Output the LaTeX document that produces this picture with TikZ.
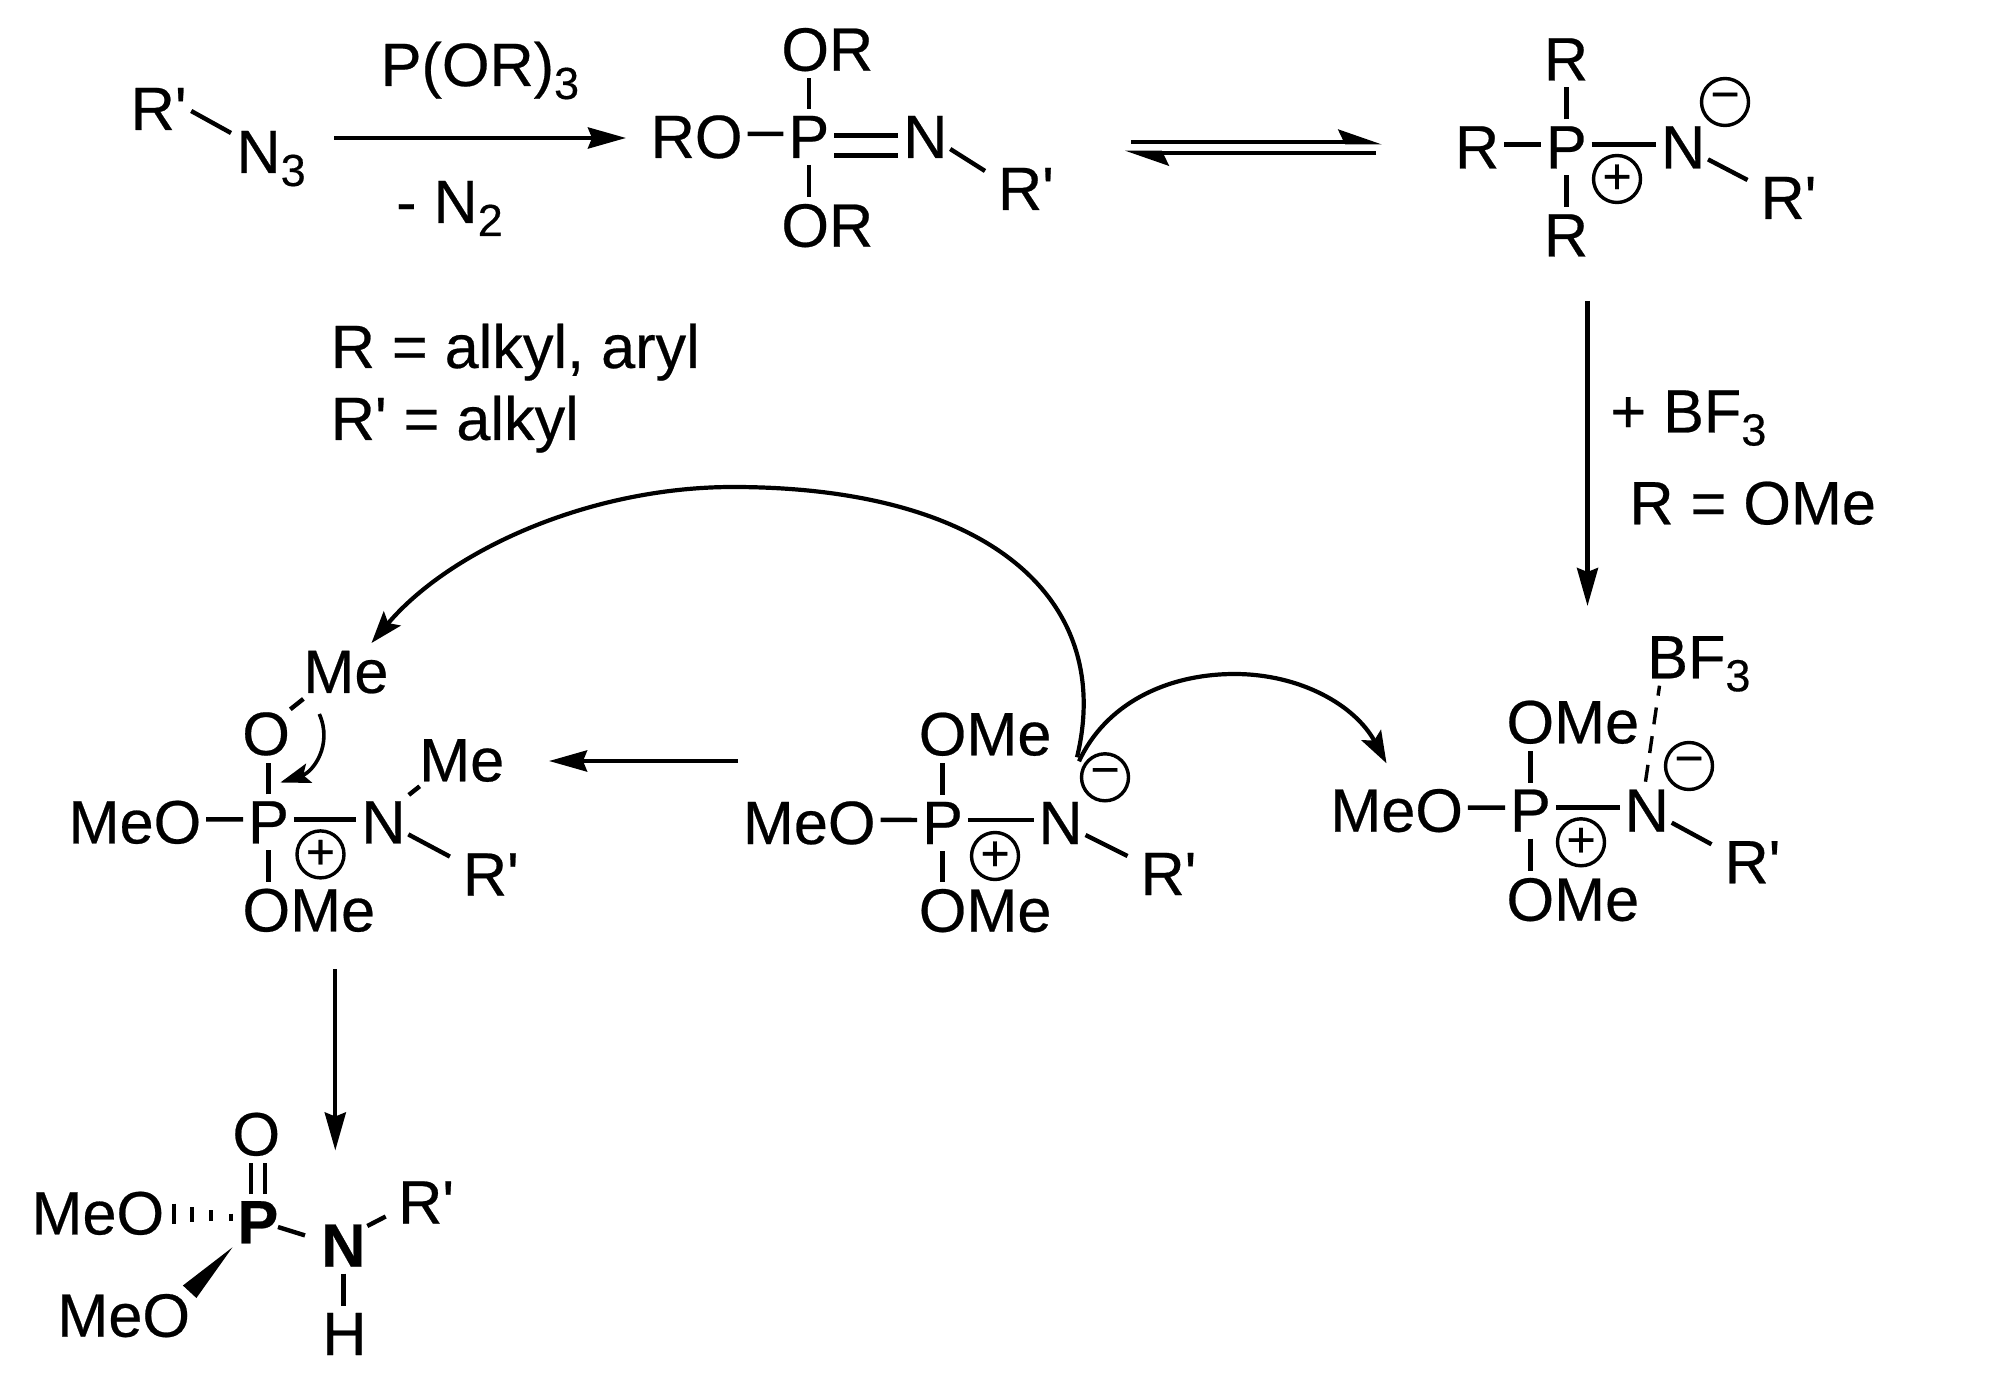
\documentclass[tikz,border=0pt]{standalone}
\usepackage{fontspec}
\usetikzlibrary{arrows.meta,calc}
\newfontfamily\lib{Liberation Sans}[FakeBold=0.4]
\newcommand{\sbs}[1]{\raisebox{-6.5pt}{\fontsize{22.5}{22.5}\selectfont #1}}
\newcommand{\hbond}[2]{\draw[bond] ([yshift=1.5pt]#1.east) -- ([yshift=1.5pt]#2.west);}
\newcommand{\upbond}[2]{\draw[bond,shorten <=1pt,shorten >=1pt] (#1.north) -- (#1.north |- #2.south);}
\newcommand{\downbond}[2]{\draw[bond,shorten <=1pt,shorten >=1pt] (#1.south) -- (#1.south |- #2.north);}
\newcommand{\nrbond}[2]{\draw[bond] ([shift={(52,-9)}]#1.base west) -- ([shift={(-8,-39)}]#2.base west);}
\tikzset{
  atom/.style={font=\lib\fontsize{30.6}{36}\selectfont,inner sep=0pt,outer sep=2.5pt,anchor=base west,xshift=-2.5pt},
  batom/.style={atom,font=\lib\bfseries\fontsize{30.6}{36}\selectfont},
  bond/.style={line width=2.2pt},
  charge/.style={draw,circle,line width=1.7pt,minimum size=23.5pt,inner sep=0pt,font=\lib\fontsize{25}{25}\selectfont},
  rxn/.style={line width=2.1pt,-{Stealth[length=19pt,width=10.5pt,inset=2pt]}},
  curly/.style={line width=2.1pt,-{Stealth[length=16pt,width=11pt,inset=3pt]}},
  eqtop/.style={line width=2pt,-{Stealth[harpoon,length=19pt,width=13pt,inset=3pt]}},
}
\begin{document}
\begin{tikzpicture}[x=.5pt,y=-.5pt]
\path[fill=white,use as bounding box] (0,0) rectangle (1990,1379);
% azide
\node[atom] (aR) at (130.7,130) {R'};
\node[atom] (aN) at (236.5,173) {N\sbs{3}};
\draw[bond] ([shift={(65.5,-19)}]aR.base west) -- ([shift={(-.5,-40)}]aN.base west);
% top reagents
\node[atom] (t1) at (380.7,86) {P(OR)\sbs{3}};
\node[atom] (t2) at (396.2,223) {- N\sbs{2}};
\coordinate (a1s) at (334,138); \coordinate (a1e) at (626,138);
\draw[rxn] (a1s) -- (a1e);
% B
\node[atom] (bRO) at (650.7,158) {RO};
\node[atom] (bP) at (788.4,158) {P};
\node[atom] (bN) at (903.2,158) {N};
\node[atom] (bRp) at (998,210) {R'};
\node[atom] (bO1) at (781.4,70.7) {OR};
\node[atom] (bO2) at (781.4,246.7) {OR};
\hbond{bRO}{bP}
\upbond{bP}{bO1}
\downbond{bP}{bO2}
\draw[bond] ([shift={(0,-1.5)}]bP.east) -- ([shift={(0,-1.5)}]bN.west);
\draw[bond] ([shift={(0,18.5)}]bP.east) -- ([shift={(0,18.5)}]bN.west);
\nrbond{bN}{bRp}
% legend
\node[atom] (l1) at (330.8,368) {R = alkyl, aryl};
\node[atom] (l2) at (330.8,440) {R' = alkyl};
% equilibrium
\coordinate (e1s) at (1131,142.5); \coordinate (e1e) at (1382,142.5);
\coordinate (e2s) at (1376,152.7); \coordinate (e2e) at (1125,152.7);
\draw[eqtop] (e1s) -- (e1e);
\draw[eqtop] (e2s) -- (e2e);
% C
\node[atom] (cR1) at (1543.9,80.4) {R};
\node[atom] (cR2) at (1455,168.4) {R};
\node[atom] (cR3) at (1543.9,256.4) {R};
\node[atom] (cP) at (1545.9,168.4) {P};
\node[atom] (cN) at (1661,168.4) {N};
\node[atom] (cRp) at (1760.5,219) {R'};
\node[charge] (cm) at (1725,102) {−};
\node[charge] (cq) at (1617,179) {+};
\hbond{cR2}{cP}
\hbond{cP}{cN}
\upbond{cP}{cR1}
\downbond{cP}{cR3}
\nrbond{cN}{cRp}
% BF3 arrow
\coordinate (a2s) at (1587.5,301); \coordinate (a2e) at (1587.5,606);
\draw[rxn] (a2s) -- (a2e);
\node[atom] (r1) at (1610.4,432.5) {+ BF\sbs{3}};
\node[atom] (r2) at (1629.4,524.3) {R = OMe};
% G
\node[atom] (gB) at (1647.2,678.3) {BF\sbs{3}};
\node[atom] (gO1) at (1506.5,743.3) {OMe};
\node[atom] (gO2) at (1506.5,920.7) {OMe};
\node[atom] (gMeO) at (1330.3,831.7) {MeO};
\node[atom] (gP) at (1510,831.7) {P};
\node[atom] (gN) at (1624.7,831.7) {N};
\node[atom] (gRp) at (1724.5,883.3) {R'};
\node[charge] (gm) at (1689,766) {−};
\node[charge] (gq) at (1581,842.3) {+};
\hbond{gMeO}{gP}
\hbond{gP}{gN}
\upbond{gP}{gO1}
\downbond{gP}{gO2}
\nrbond{gN}{gRp}
\draw[line width=1.7pt,dash pattern=on 8.5pt off 6pt] ([shift={(25.8,-50)}]gN.base west) -- ([shift={(17.3,7.4)}]gB.base west);
% F
\node[atom] (fO1) at (918.8,755.3) {OMe};
\node[atom] (fO2) at (918.8,931.7) {OMe};
\node[atom] (fMeO) at (742.9,844) {MeO};
\node[atom] (fP) at (922.1,844) {P};
\node[atom] (fN) at (1038.5,844) {N};
\node[atom] (fRp) at (1140.5,895) {R'};
\node[charge] (fm) at (1105,777.3) {−};
\node[charge] (fq) at (995,856) {+};
\hbond{fMeO}{fP}
\hbond{fP}{fN}
\upbond{fP}{fO1}
\downbond{fP}{fO2}
\nrbond{fN}{fRp}
% curved arrows
\coordinate (c1e) at (371.5,643);
\draw[curly] ([shift={(-28,-20)}]fm.center) .. controls (1115,600) and (990,487) .. (733,487) .. controls (590,487) and (450,550) .. (c1e);
\coordinate (c2e) at (1386.5,763.3);
\draw[curly] ([shift={(-26,-16)}]fm.center) .. controls (1105,705) and (1165,674) .. (1234.6,674) .. controls (1300,674) and (1355,705) .. (c2e);
% F->D arrow
\coordinate (a3s) at (738,761); \coordinate (a3e) at (549,761);
\draw[rxn] (a3s) -- (a3e);
% D
\node[atom] (dMe) at (303.4,692.9) {Me};
\node[atom] (dO) at (242.3,755) {O};
\node[atom] (dMeO) at (68.6,843.4) {MeO};
\node[atom] (dP) at (248.1,843.4) {P};
\node[atom] (dN) at (361.3,843.4) {N};
\node[atom] (dMe2) at (419.2,781.3) {Me};
\node[atom] (dRp) at (462.9,895.6) {R'};
\node[atom] (dO2) at (242.5,931.4) {OMe};
\node[charge] (dq) at (320.5,854.4) {+};
\hbond{dMeO}{dP}
\hbond{dP}{dN}
\upbond{dP}{dO}
\downbond{dP}{dO2}
\nrbond{dN}{dRp}
\draw[bond] ([shift={(53,-45.7)}]dO.base west) -- ([shift={(5,6)}]dMe.base west);
\draw[bond] ([shift={(52.5,-48.5)}]dN.base west) -- ([shift={(5.5,5)}]dMe2.base west);
\coordinate (c3e) at (280.4,782.5);
\draw[line width=1.8pt,-{Stealth[length=15pt,width=10pt,inset=3pt]}] ([shift={(82,-41)}]dO.base west) .. controls (333,745) and (313,772) .. (c3e);
% D->E arrow
\coordinate (a4s) at (335.3,969); \coordinate (a4e) at (335.3,1150.5);
\draw[rxn] (a4s) -- (a4e);
% E
\node[atom] (eO) at (232.5,1155.4) {O};
\node[batom] (eP) at (237.5,1243.3) {P};
\node[atom] (eMeO1) at (31.5,1234.4) {MeO};
\node[atom] (eMeO2) at (57.4,1336.7) {MeO};
\node[batom] (eN) at (321.3,1266.7) {N};
\node[atom] (eRp) at (398.2,1223.5) {R'};
\node[atom] (eH) at (322.3,1355) {H};
\draw[bond,shorten <=1pt,shorten >=1pt] ([xshift=-3.6pt]eP.north) -- ([xshift=-3.6pt]eP.north |- eO.south);
\draw[bond,shorten <=1pt,shorten >=1pt] ([xshift=3.6pt]eP.north) -- ([xshift=3.6pt]eP.north |- eO.south);
\draw[line width=1.9pt] ([shift={(-58.5,-39.7)}]eP.base west) -- ([shift={(-58.5,-19.8)}]eP.base west)
  ([shift={(-40.5,-36.3)}]eP.base west) -- ([shift={(-40.5,-21.3)}]eP.base west)
  ([shift={(-21.5,-33.3)}]eP.base west) -- ([shift={(-21.5,-22.3)}]eP.base west)
  ([shift={(-1.5,-29.8)}]eP.base west) -- ([shift={(-1.5,-22.3)}]eP.base west);
\fill ([shift={(0,4)}]eP.base west) -- ([shift={(130.5,-51.2)}]eMeO2.base west) -- ([shift={(144,-38.7)}]eMeO2.base west) -- cycle;
\draw[bond] ([shift={(45.5,-16.3)}]eP.base west) -- ([shift={(-11.3,-31.3)}]eN.base west);
\draw[bond] ([shift={(51,-40.7)}]eN.base west) -- ([shift={(-7.5,-7)}]eRp.base west);
\draw[bond,shorten <=1pt,shorten >=1pt] (eN.south) -- (eN.south |- eH.north);
\end{tikzpicture}
\end{document}
